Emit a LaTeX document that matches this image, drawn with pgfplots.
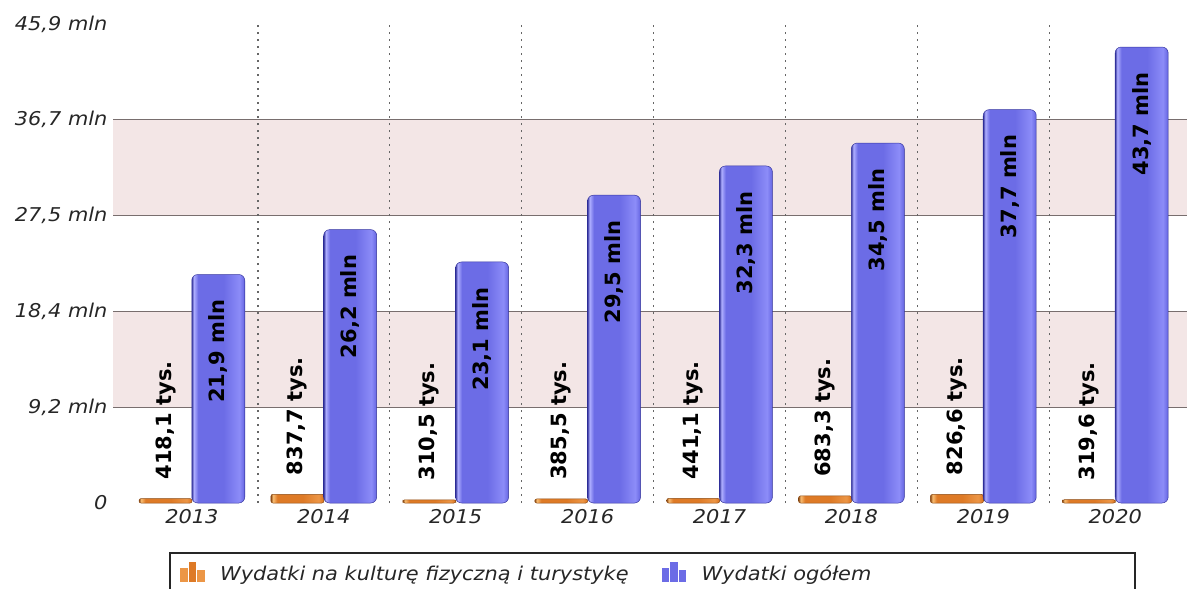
\documentclass[border=0pt]{standalone}
\usepackage{pgfplots}
\pgfplotsset{compat=1.18}
\usepackage{fontspec}
\setmainfont{DejaVu Sans}
\newfontfamily\tickfont{DejaVu Sans}[FakeStretch=1.1]
\newfontfamily\labfont{DejaVu Sans}
\definecolor{bandc}{RGB}{243,230,230}
\definecolor{gridc}{RGB}{120,110,110}
\definecolor{blueL}{RGB}{175,175,255}
\definecolor{blueM}{RGB}{108,108,230}
\definecolor{blueR}{RGB}{140,140,248}
\definecolor{blueD}{RGB}{55,55,160}
\definecolor{orL}{RGB}{250,190,115}
\definecolor{orM}{RGB}{222,122,38}
\definecolor{orR}{RGB}{236,150,70}
\definecolor{orD}{RGB}{140,75,20}
\pgfdeclarehorizontalshading{blueshade}{100bp}{color(0bp)=(blueD); color(25bp)=(blueD); color(27bp)=(blueL); color(31bp)=(blueM); color(55bp)=(blueM); color(70bp)=(blueR); color(74bp)=(blueM); color(75bp)=(blueD); color(100bp)=(blueD)}
\pgfdeclarehorizontalshading{orshade}{100bp}{color(0bp)=(orD); color(25bp)=(orD); color(27bp)=(orL); color(31bp)=(orM); color(55bp)=(orM); color(70bp)=(orR); color(74bp)=(orM); color(75bp)=(orD); color(100bp)=(orD)}
\pgfplotsset{
  obar/.style={ybar, bar width=53pt, bar shift=0pt, draw=orD, line width=0.5pt,
    shading=orshade, rounded corners=2pt, forget plot,
    nodes near coords, point meta=explicit symbolic,
    nodes near coords style={rotate=90, anchor=west, font=\labfont\bfseries\fontsize{21}{21}\selectfont, text=black, inner xsep=19pt}},
  bbar/.style={ybar, bar width=53pt, bar shift=0pt, draw=blueD, line width=0.5pt,
    shading=blueshade, rounded corners=6pt, forget plot,
    nodes near coords, point meta=explicit symbolic,
    nodes near coords style={rotate=90, anchor=east, font=\labfont\bfseries\fontsize{21}{21}\selectfont, text=black, inner xsep=25pt}},
}
\begin{document}
\begin{tikzpicture}
\begin{axis}[
  set layers,
  at={(113pt,-503pt)}, anchor=south west,
  scale only axis, width=1074pt, height=481pt,
  xmin=-0.598, xmax=7.544, ymin=0, ymax=46.1,
  axis line style={draw=none},
  major tick length=0pt,
  xtick={0,1,2,3,4,5,6,7},
  xticklabels={2013,2014,2015,2016,2017,2018,2019,2020},
  xticklabel style={font=\tickfont\itshape\fontsize{19}{19}\selectfont, text=black!85, yshift=-3pt},
  yticklabel style={font=\tickfont\itshape\fontsize{19}{19}\selectfont, text=black!85, xshift=-2pt},
  ytick={9.18,18.36,27.54,36.72},
  yticklabels={{9,2 mln},{18,4 mln},{27,5 mln},{36,7 mln}},
  extra y ticks={0,45.9},
  extra y tick labels={{0},{45,9 mln}},
  extra y tick style={ymajorgrids=false},
  ymajorgrids,
  major grid style={gridc, line width=1pt},
  extra x ticks={0.5,1.5,2.5,3.5,4.5,5.5,6.5},
  extra x tick labels={},
  extra x tick style={xmajorgrids=true, major grid style={black!60, line width=1.4pt, dash pattern=on 2pt off 5pt}},
  legend style={at={(axis description cs:0.0624,-0.146)}, anchor=west, draw=none, fill=none, inner sep=0pt,
    font=\tickfont\itshape\fontsize{19}{19}\selectfont, text=black!85,
    /tikz/every odd column/.append style={column sep=14pt},
    /tikz/every even column/.append style={column sep=31pt}},
  legend columns=2,
]
\begin{pgfonlayer}{axis background}
\fill[bandc] (axis cs:-0.598,9.18) rectangle (axis cs:7.544,18.36);
\fill[bandc] (axis cs:-0.598,27.54) rectangle (axis cs:7.544,36.72);
\end{pgfonlayer}

% Wydatki na kulture fizyczna i turystyke (mln)
\addplot[obar] coordinates {(-0.2,0.4181) [418,1 tys.]};
\addplot[obar] coordinates {(0.8,0.8377) [837,7 tys.]};
\addplot[obar] coordinates {(1.8,0.3105) [310,5 tys.]};
\addplot[obar] coordinates {(2.8,0.3855) [385,5 tys.]};
\addplot[obar] coordinates {(3.8,0.4411) [441,1 tys.]};
\addplot[obar] coordinates {(4.8,0.6833) [683,3 tys.]};
\addplot[obar] coordinates {(5.8,0.8266) [826,6 tys.]};
\addplot[obar] coordinates {(6.8,0.3196) [319,6 tys.]};
% Wydatki ogolem (mln)
\addplot[bbar] coordinates {(0.2,21.9) [21,9 mln]};
\addplot[bbar] coordinates {(1.2,26.2) [26,2 mln]};
\addplot[bbar] coordinates {(2.2,23.1) [23,1 mln]};
\addplot[bbar] coordinates {(3.2,29.5) [29,5 mln]};
\addplot[bbar] coordinates {(4.2,32.3) [32,3 mln]};
\addplot[bbar] coordinates {(5.2,34.5) [34,5 mln]};
\addplot[bbar] coordinates {(6.2,37.7) [37,7 mln]};
\addplot[bbar] coordinates {(7.2,43.7) [43,7 mln]};

\addlegendimage{legend image code/.code={
    \fill[orR, sharp corners] (0pt,-8pt) rectangle (6.5pt,5pt);
    \fill[orM, sharp corners] (8.5pt,-8pt) rectangle (15pt,11pt);
    \fill[orR, sharp corners] (17pt,-8pt) rectangle (23.5pt,3pt);}}
\addlegendentry{Wydatki na kulturę fizyczną i turystykę}
\addlegendimage{legend image code/.code={
    \fill[blueM, sharp corners] (0pt,-8pt) rectangle (6.5pt,5pt);
    \fill[blueM, sharp corners] (8.5pt,-8pt) rectangle (15pt,11pt);
    \fill[blueM, sharp corners] (17pt,-8pt) rectangle (23.5pt,3pt);}}
\addlegendentry{Wydatki ogółem}
\end{axis}
\draw[black!85, line width=1.2pt] (170pt,-553pt) rectangle (1135pt,-640pt);
\pgfresetboundingbox
\useasboundingbox (0,0) rectangle (1187pt,-589pt);
\end{tikzpicture}
\end{document}
